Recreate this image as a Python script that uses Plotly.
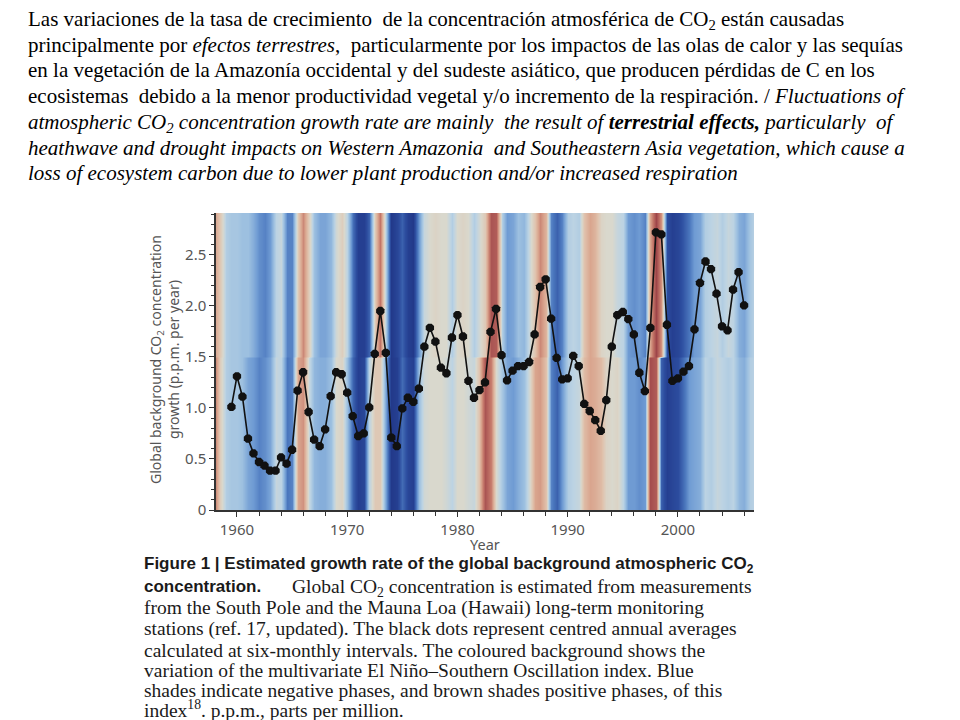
import numpy as np
import plotly.graph_objects as go

# ---------------- data ----------------
CO2_START, CO2_STEP = 1959.5, 0.5
co2_growth = [
    1.01, 1.31, 1.11, 0.70, 0.555, 0.47, 0.435, 0.385, 0.385, 0.515,
    0.455, 0.59, 1.17, 1.35, 0.96, 0.69, 0.625, 0.79, 1.115, 1.35,
    1.33, 1.15, 0.92, 0.725, 0.75, 1.005, 1.53, 1.95, 1.54, 0.71,
    0.625, 0.995, 1.10, 1.06, 1.19, 1.60, 1.785, 1.65, 1.395, 1.34,
    1.69, 1.91, 1.70, 1.265, 1.10, 1.175, 1.25, 1.745, 1.97, 1.517,
    1.27, 1.365, 1.41, 1.41, 1.45, 1.72, 2.185, 2.26, 1.875, 1.49,
    1.28, 1.29, 1.51, 1.41, 1.04, 0.97, 0.88, 0.776, 1.076, 1.60,
    1.91, 1.94, 1.87, 1.72, 1.345, 1.165, 1.785, 2.72, 2.70, 1.815,
    1.265, 1.29, 1.355, 1.41, 1.77, 2.225, 2.435, 2.36, 2.12, 1.80,
    1.76, 2.16, 2.33, 2.005,
]
co2_years = [CO2_START + CO2_STEP * i for i in range(len(co2_growth))]

# Multivariate ENSO index background (half-yearly, 1958.0 ... 2007.0)
MEI_START, MEI_STEP = 1958.0, 0.5
mei_upper = [
    0.8, 0.3, -0.4, -0.5, -0.5, -0.6, -0.6, -0.8, -1.1, -1.2,
    -1.0, -0.3, -0.2, -1.2, -1.2, 0.3, 1.1, 0.2, -0.6, -0.9,
    -0.9, -0.7, -0.1, 0.2, -0.3, -1.4, -1.9, -1.9, -1.5, 0.3,
    1.3, -0.5, -2.0, -1.8, -1.5, -1.9, -2.0, -1.0, -0.2, 0.0,
    0.1, 0.0, 0.0, -0.4, 0.0, 0.1, 0.0, -0.4, -0.1, 0.3,
    1.7, 1.6, -0.4, -1.0, -0.9, -0.6, -0.7, -0.2, 0.4, 1.1,
    0.6, -1.2, -1.5, -1.2, -0.4, -0.3, -0.4, 0.4, 0.8, 0.6,
    0.1, 0.0, 0.0, -0.2, -0.3, -1.0, -1.1, -1.0, -1.2, 0.8,
    1.9, 1.0, -1.7, -1.9, -1.8, -1.6, -1.3, -1.0, -0.9, -0.4,
    -0.3, -0.2, -0.4, -0.2, -0.3, -0.8, -0.9, -0.5, -0.3,
]
mei_lower = [
    1.2, 0.2, -0.4, -0.5, -0.5, -0.6, -0.9, -1.0, -1.2, -1.1,
    -0.9, -0.2, -0.3, -1.3, -1.2, 0.8, 1.0, -0.2, -0.7, -0.8,
    -0.8, -0.6, 0.0, 0.1, -0.6, -1.5, -1.9, -1.8, -0.3, 0.3,
    0.3, -1.0, -2.0, -1.9, -1.4, -1.8, -1.9, -0.6, -0.1, 0.0,
    0.0, 0.0, -0.1, -0.3, 0.0, 0.0, -0.1, -0.2, 0.4, 1.7,
    1.2, 0.0, -0.5, -0.9, -1.0, -0.8, -0.6, -0.1, 0.8, 0.9,
    0.4, -1.2, -1.5, -1.0, -0.4, -0.3, -0.2, 0.5, 0.8, 0.7,
    0.5, 0.1, 0.0, 0.1, -0.3, -1.0, -1.0, -1.1, -1.0, 1.8,
    1.6, -1.5, -1.9, -1.8, -1.7, -1.4, -1.0, -0.9, -0.8, -0.3,
    -0.4, -0.2, -0.3, -0.4, -0.3, -0.7, -0.8, -0.4, -0.3,
]
mei_years = [MEI_START + MEI_STEP * i for i in range(len(mei_upper))]
band_edges = [0.0, 1.49, 1.5, 1.51, 2.95]   # lower half / upper half of the background

y_tickvals = [0, 0.5, 1.0, 1.5, 2.0, 2.5]
y_ticktext = ["0", "0.5", "1.0", "1.5", "2.0", "2.5"]
x_tickvals = [1960, 1970, 1980, 1990, 2000]

# ---------------- layout helpers ----------------
# the page body has an 8px default margin, so the figure is 8px smaller on each side
OFF = 8
W, H = 960 - OFF, 720 - OFF
L, R, T, B = 216 - OFF, 206, 213 - OFF, 210
PW, PH = W - L - R, H - T - B


def px(xr):
    """reference-picture x pixel -> paper coordinate"""
    return (xr - OFF - L) / PW


def py(yr):
    """reference-picture y pixel -> paper coordinate"""
    return (H - B - (yr - OFF)) / PH


colorscale = [
    [0.000, "#22398a"], [0.075, "#2c4c9e"], [0.175, "#4a76bd"], [0.25, "#6f9bd3"],
    [0.350, "#9dc0e0"], [0.425, "#bcd3e3"], [0.50, "#d9d8cd"], [0.60, "#e0c2ad"],
    [0.700, "#d9a58e"], [0.825, "#c27467"], [1.00, "#983d44"],
]

fig = go.Figure()
fig.add_trace(go.Heatmap(
    x=mei_years, y=band_edges,
    z=[mei_lower, mei_lower, mei_upper, mei_upper],
    zmin=-2, zmax=2, colorscale=colorscale, zsmooth="best",
    showscale=False, hoverinfo="skip",
))
fig.add_trace(go.Scatter(
    x=co2_years, y=co2_growth, mode="lines+markers",
    line=dict(color="#111111", width=1.6),
    marker=dict(color="#111111", size=9, symbol="octagon"),
    hoverinfo="skip",
))

axis_font = dict(family="Noto Sans, Open Sans, sans-serif", size=15, color="#555555")
fig.update_xaxes(
    range=[1958.1, 2006.9], tickvals=x_tickvals, ticks="outside", ticklen=5,
    tickcolor="#333", tickfont=axis_font, showline=True, linecolor="#333", linewidth=1.5,
    showgrid=False, zeroline=False, minor=dict(dtick=2, ticks="outside", ticklen=4, tickcolor="#333"),
)
fig.update_yaxes(
    range=[0, 2.91], tickvals=y_tickvals, ticktext=y_ticktext, ticks="outside", ticklen=5,
    tickcolor="#333", tickfont=axis_font, showline=True, linecolor="#333", linewidth=1.5,
    showgrid=False, zeroline=False, minor=dict(dtick=0.1, ticks="outside", ticklen=3, tickcolor="#333"),
)

ann = []
# axis titles
ann.append(dict(x=px(164), y=py(360), xref="paper", yref="paper", textangle=-90,
                text="Global background CO<sub>2</sub> concentration<br>growth (p.p.m. per year)",
                showarrow=False, font=dict(family="Noto Sans, sans-serif", size=14, color="#555555"),
                xanchor="center", yanchor="middle"))
ann.append(dict(x=px(485), y=py(544), xref="paper", yref="paper", text="Year",
                showarrow=False, font=dict(family="Noto Sans, sans-serif", size=14.5, color="#555555"),
                xanchor="center", yanchor="middle"))

# top text
top_lines = [
    "Las variaciones de la tasa de crecimiento  de la concentración atmosférica de CO<sub>2</sub> están causadas",
    "principalmente por <i>efectos terrestres</i>,  particularmente por los impactos de las olas de calor y las sequías",
    "en la vegetación de la Amazonía occidental y del sudeste asiático, que producen pérdidas de C en los",
    "ecosistemas  debido a la menor productividad vegetal y/o incremento de la respiración. / <i>Fluctuations of</i>",
    "<i>atmospheric CO<sub>2</sub> concentration growth rate are mainly  the result of <b>terrestrial effects,</b> particularly  of</i>",
    "<i>heathwave and drought impacts on Western Amazonia  and Southeastern Asia vegetation, which cause a</i>",
    "<i>loss of ecosystem carbon due to lower plant production and/or increased respiration</i>",
]
top_y = [20, 45, 70, 96, 123, 148, 173]
for t, yy in zip(top_lines, top_y):
    ann.append(dict(x=px(26), y=py(yy), xref="paper", yref="paper", text=t, showarrow=False,
                    xanchor="left", yanchor="middle",
                    font=dict(family="Liberation Serif, Times New Roman, serif", size=21, color="#000")))

# caption
serif = dict(family="Liberation Serif, serif", size=19.5, color="#1a1a1a")
sansb = dict(family="Liberation Sans, Arial, sans-serif", size=17, color="#1a1a1a")
ann.append(dict(x=px(142), y=py(565), xref="paper", yref="paper", showarrow=False,
                xanchor="left", yanchor="middle", font=sansb,
                text="<b>Figure 1 | Estimated growth rate of the global background atmospheric CO<sub>2</sub></b>"))
ann.append(dict(x=px(142), y=py(586), xref="paper", yref="paper", showarrow=False,
                xanchor="left", yanchor="middle", font=sansb, text="<b>concentration.</b>"))
ann.append(dict(x=px(290), y=py(588), xref="paper", yref="paper", showarrow=False,
                xanchor="left", yanchor="middle",
                font=dict(family="Liberation Serif, serif", size=19.5, color="#1a1a1a"),
                text="Global CO<sub>2</sub> concentration is estimated from measurements"))
cap_lines = [
    "from the South Pole and the Mauna Loa (Hawaii) long-term monitoring",
    "stations (ref. 17, updated). The black dots represent centred annual averages",
    "calculated at six-monthly intervals. The coloured background shows the",
    "variation of the multivariate El Niño–Southern Oscillation index. Blue",
    "shades indicate negative phases, and brown shades positive phases, of this",
    "index<sup>18</sup>. p.p.m., parts per million.",
]
cap_y = [608, 629, 650, 670, 690, 709]
for t, yy in zip(cap_lines, cap_y):
    ann.append(dict(x=px(142), y=py(yy), xref="paper", yref="paper", text=t, showarrow=False,
                    xanchor="left", yanchor="middle", font=serif))

fig.update_layout(
    width=W, height=H, margin=dict(l=L, r=R, t=T, b=B, pad=0),
    paper_bgcolor="white", plot_bgcolor="white", showlegend=False,
    annotations=ann,
)
fig.write_html("out.html")
